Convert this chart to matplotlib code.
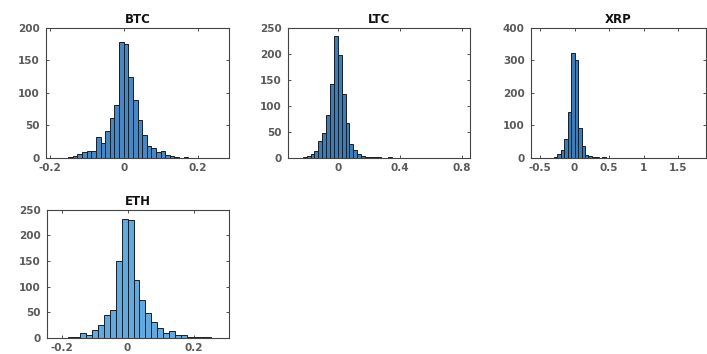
import numpy as np
import matplotlib.pyplot as plt

plt.rcParams['font.family'] = ['DejaVu Sans']

# histogram counts (left to right), bins start/width per coin
btc_counts = [2, 3, 6, 9, 11, 10, 32, 23, 42, 61, 82, 178,
              176, 124, 89, 58, 35, 18, 16, 9, 11, 5, 3, 1, 0, 1]
btc_start, btc_width = -0.15, 0.0125

ltc_counts = [1, 3, 8, 13, 32, 48, 82, 142, 234,
              198, 123, 68, 27, 16, 8, 4, 2, 2, 1, 1, 0, 0, 2]
ltc_start, ltc_width = -0.225, 0.025

xrp_counts = [3, 12, 26, 57, 140, 323,
              300, 93, 36, 10, 5, 4, 2, 1, 4]
xrp_start, xrp_width = -0.3, 0.05

eth_counts = [1, 2, 10, 6, 16, 25, 45, 54, 149, 232,
              229, 113, 74, 48, 31, 19, 10, 13, 6, 5, 2, 1, 1, 1]
eth_start, eth_width = -0.18, 0.018

fig = plt.figure(figsize=(7.07, 3.54), dpi=100)

panels = [
    ('BTC', btc_counts, btc_start, btc_width, [0.0651, 0.5537, 0.2588, 0.3672],
     (-0.21, 0.285), [-0.2, 0, 0.2], ['-0.2', '0', '0.2'], 200, 50, '#4787c3'),
    ('LTC', ltc_counts, ltc_start, ltc_width, [0.4074, 0.5537, 0.2574, 0.3672],
     (-0.32, 0.85), [0, 0.4, 0.8], ['0', '0.4', '0.8'], 250, 50, '#3d7cb5'),
    ('XRP', xrp_counts, xrp_start, xrp_width, [0.7511, 0.5537, 0.2475, 0.3672],
     (-0.63, 1.9), [-0.5, 0, 0.5, 1, 1.5], ['-0.5', '0', '0.5', '1', '1.5'], 400, 100, '#3d7cb5'),
    ('ETH', eth_counts, eth_start, eth_width, [0.0665, 0.046, 0.2574, 0.3616],
     (-0.244, 0.307), [-0.2, 0, 0.2], ['-0.2', '0', '0.2'], 250, 50, '#62a9de'),
]

for name, counts, start, width, rect, xlim, xt, xtl, ymax, ystep, col in panels:
    ax = fig.add_axes(rect)
    edges = start + width * np.arange(len(counts) + 1)
    ax.hist(edges[:-1], bins=edges, weights=counts, color=col,
            edgecolor='#14202c', linewidth=0.7)
    ax.set_xlim(*xlim)
    ax.set_ylim(0, ymax)
    ax.set_xticks(xt)
    ax.set_xticklabels(xtl)
    ax.set_yticks(np.arange(0, ymax + 1, ystep))
    ax.tick_params(direction='in', length=2, width=0.6, labelsize=7.5,
                   colors='#333333', labelcolor='#5a5a5a',
                   top=True, right=True)
    ax.tick_params(axis='x', pad=3.5)
    ax.tick_params(axis='y', pad=4.5)
    for lbl in ax.get_xticklabels() + ax.get_yticklabels():
        lbl.set_fontweight('bold')
    for s in ax.spines.values():
        s.set_color('#444444')
        s.set_linewidth(0.8)
    ax.set_title(name, fontsize=8.5, fontweight='bold', pad=3.5, color='#111111')

fig.savefig('out.png', dpi=100)
